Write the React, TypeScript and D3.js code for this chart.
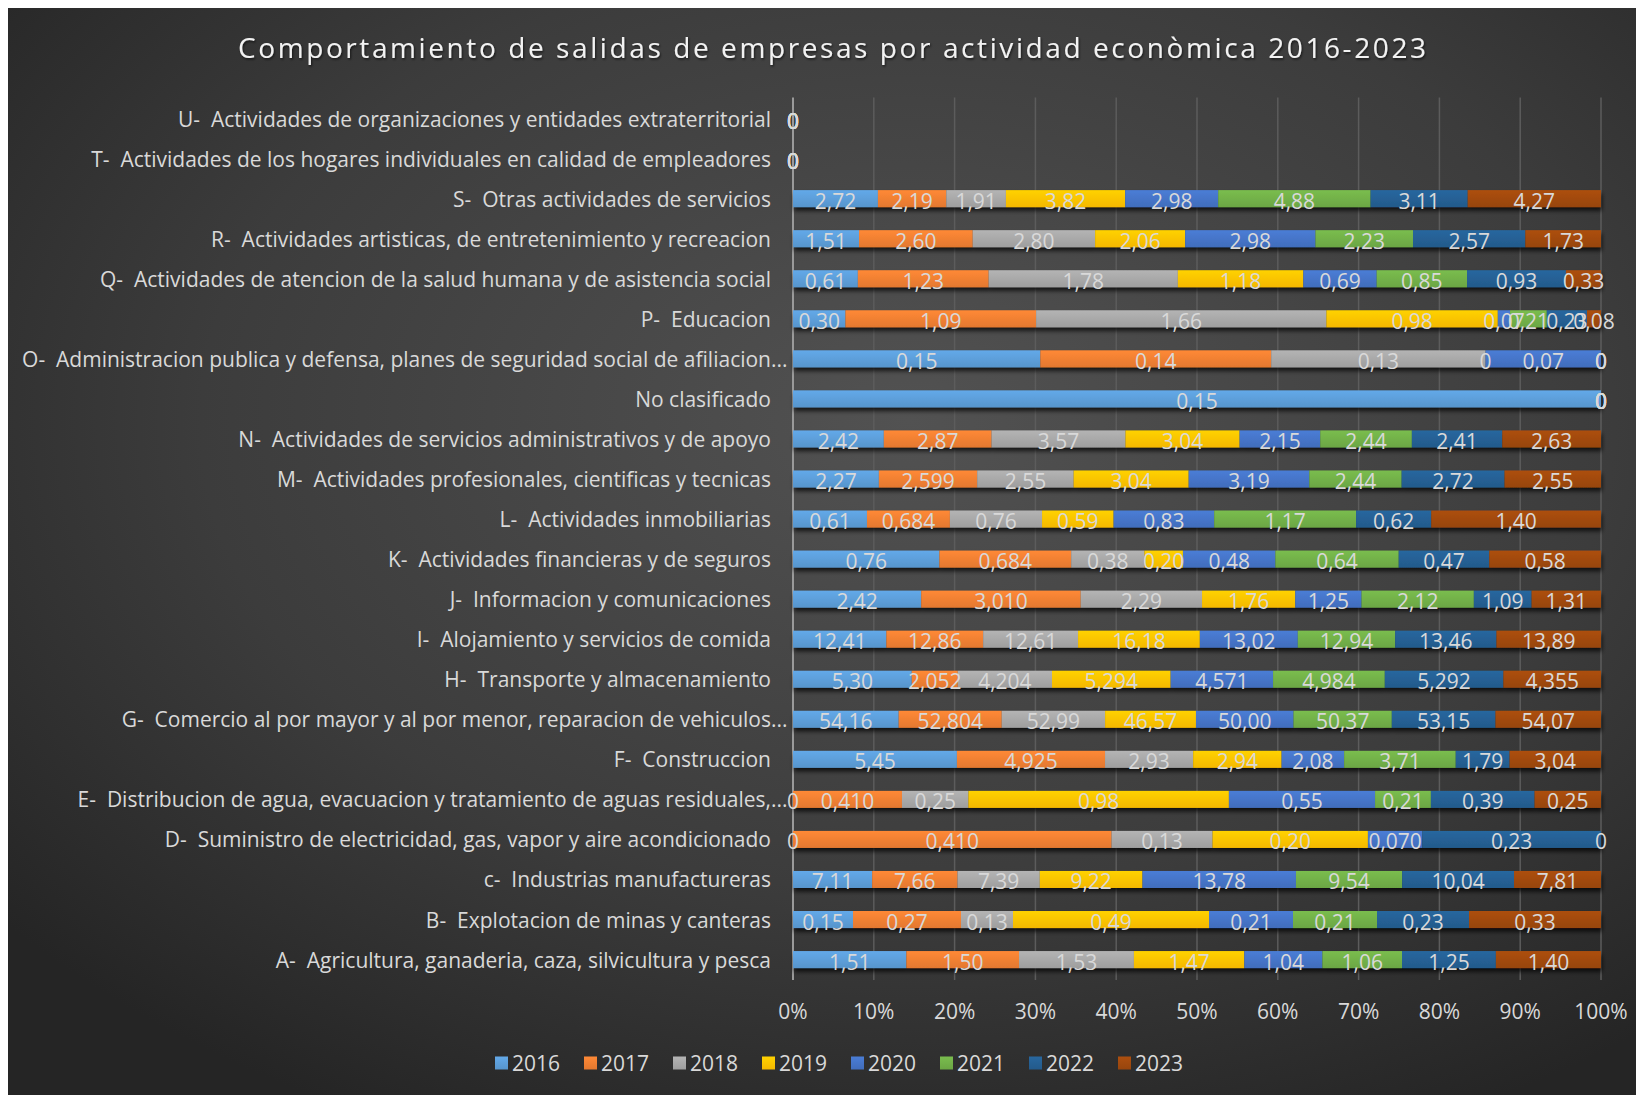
import React from "react";
import * as d3 from "d3";

const categories = [
  "U-  Actividades de organizaciones y entidades extraterritorial",
  "T-  Actividades de los hogares individuales en calidad de empleadores",
  "S-  Otras actividades de servicios",
  "R-  Actividades artisticas, de entretenimiento y recreacion",
  "Q-  Actividades de atencion de la salud humana y de asistencia social",
  "P-  Educacion",
  "O-  Administracion publica y defensa, planes de seguridad social de afiliacion...",
  "No clasificado",
  "N-  Actividades de servicios administrativos y de apoyo",
  "M-  Actividades profesionales, cientificas y tecnicas",
  "L-  Actividades inmobiliarias",
  "K-  Actividades financieras y de seguros",
  "J-  Informacion y comunicaciones",
  "I-  Alojamiento y servicios de comida",
  "H-  Transporte y almacenamiento",
  "G-  Comercio al por mayor y al por menor, reparacion de vehiculos...",
  "F-  Construccion",
  "E-  Distribucion de agua, evacuacion y tratamiento de aguas residuales,...",
  "D-  Suministro de electricidad, gas, vapor y aire acondicionado",
  "c-  Industrias manufactureras",
  "B-  Explotacion de minas y canteras",
  "A-  Agricultura, ganaderia, caza, silvicultura y pesca",
];

const years = ["2016", "2017", "2018", "2019", "2020", "2021", "2022", "2023"];

// "" = empty cell (no value, no label)
const v2016 = ["0","0","2,72","1,51","0,61","0,30","0,15","0,15","2,42","2,27","0,61","0,76","2,42","12,41","5,30","54,16","5,45","0","0","7,11","0,15","1,51"];
const v2017 = ["0","0","2,19","2,60","1,23","1,09","0,14","0","2,87","2,599","0,684","0,684","3,010","12,86","2,052","52,804","4,925","0,410","0,410","7,66","0,27","1,50"];
const v2018 = ["0","0","1,91","2,80","1,78","1,66","0,13","0","3,57","2,55","0,76","0,38","2,29","12,61","4,204","52,99","2,93","0,25","0,13","7,39","0,13","1,53"];
const v2019 = ["0","0","3,82","2,06","1,18","0,98","0","0","3,04","3,04","0,59","0,20","1,76","16,18","5,294","46,57","2,94","0,98","0,20","9,22","0,49","1,47"];
const v2020 = ["0","0","2,98","2,98","0,69","0,07","0,07","0","2,15","3,19","0,83","0,48","1,25","13,02","4,571","50,00","2,08","0,55","0,070","13,78","0,21","1,04"];
const v2021 = ["0","0","4,88","2,23","0,85","0,21","0","0","2,44","2,44","1,17","0,64","2,12","12,94","4,984","50,37","3,71","0,21","","9,54","0,21","1,06"];
const v2022 = ["0","0","3,11","2,57","0,93","0,23","0","0","2,41","2,72","0,62","0,47","1,09","13,46","5,292","53,15","1,79","0,39","0,23","10,04","0,23","1,25"];
const v2023 = ["0","0","4,27","1,73","0,33","0,08","0","0","2,63","2,55","1,40","0,58","1,31","13,89","4,355","54,07","3,04","0,25","0","7,81","0,33","1,40"];

const seriesLabels = [v2016, v2017, v2018, v2019, v2020, v2021, v2022, v2023];
const colors = ["#5B9BD5", "#ED7D31", "#A5A5A5", "#FFC000", "#4472C4", "#70AD47", "#255E91", "#9E480E"];

const tickValues = [0, 0.1, 0.2, 0.3, 0.4, 0.5, 0.6, 0.7, 0.8, 0.9, 1];

const title = "Comportamiento de salidas de empresas por actividad econòmica 2016-2023";

const W = 1636;
const H = 1087;
const FONT = "'Open Sans', 'Noto Sans', sans-serif";
const TXT = "#d9d9d9";

export default function App() {
  const parse = (s: string) => (s === "" ? 0 : +s.replace(",", "."));
  const rows = categories.map((c, i) => {
    const r: any = { cat: c };
    years.forEach((y, k) => (r[y] = parse(seriesLabels[k][i])));
    return r;
  });
  const stack = d3.stack<any>().keys(years).offset(d3.stackOffsetExpand);
  const stacked = stack(rows);

  const x = d3.scaleLinear().domain([0, 1]).range([785, 1593]);
  const y = d3
    .scaleBand<string>()
    .domain(categories)
    .range([90.5, 971.6])
    .paddingInner(0.575)
    .paddingOuter(0.2875);
  const bw = y.bandwidth();
  const pct = d3.format(".0%");

  return (
    <svg width={W} height={H} style={{ display: "block" }}>
      <defs>
        <radialGradient id="bg" cx="0.55" cy="0.38" r="0.72">
          <stop offset="0" stopColor="#525252" />
          <stop offset="0.6" stopColor="#3c3c3c" />
          <stop offset="1" stopColor="#252525" />
        </radialGradient>
        {colors.map((c, i) => (
          <linearGradient key={i} id={`g${i}`} x1="0" y1="0" x2="0" y2="1">
            <stop offset="0" stopColor={d3.color(c)!.brighter(0.25).toString()} />
            <stop offset="1" stopColor={d3.color(c)!.darker(0.12).toString()} />
          </linearGradient>
        ))}
        <filter id="sh" x="-5%" y="-50%" width="110%" height="250%">
          <feDropShadow dx="1" dy="3.5" stdDeviation="2.2" floodColor="#000" floodOpacity="0.75" />
        </filter>
        <filter id="tsh" x="-5%" y="-30%" width="110%" height="160%">
          <feDropShadow dx="1" dy="1.5" stdDeviation="1" floodColor="#000" floodOpacity="0.6" />
        </filter>
      </defs>
      <rect x={0} y={0} width={W} height={H} fill="url(#bg)" />

      <text
        x={824}
        y={39}
        textAnchor="middle"
        dominantBaseline="central"
        fontFamily={FONT}
        fontSize={28}
        fill="#f2f2f2"
        textLength={1188}
        lengthAdjust="spacing"
        filter="url(#tsh)"
      >
        {title}
      </text>

      {tickValues.map((t) => (
        <line
          key={t}
          x1={x(t)}
          x2={x(t)}
          y1={89.5}
          y2={972}
          stroke={t === 0 ? "#9a9a9a" : "#5c5c5c"}
          strokeWidth={t === 0 ? 2 : 1.5}
        />
      ))}

      <g filter="url(#sh)">
        {stacked.map((s, k) =>
          s.map((d, i) => (
            <rect
              key={`${k}-${i}`}
              x={x(d[0])}
              y={y(categories[i])!}
              width={Math.max(0, x(d[1]) - x(d[0]))}
              height={bw}
              fill={`url(#g${k})`}
            />
          ))
        )}
      </g>

      {stacked.map((s, k) =>
        s.map((d, i) =>
          seriesLabels[k][i] === "" ? null : (
            <text
              key={`l${k}-${i}`}
              x={(x(d[0]) + x(d[1])) / 2}
              y={y(categories[i])! + bw / 2 + 2}
              textAnchor="middle"
              dominantBaseline="central"
              fontFamily={FONT}
              fontSize={21}
              fill={TXT}
            >
              {seriesLabels[k][i]}
            </text>
          )
        )
      )}

      {categories.map((c) => {
        const ell = c.endsWith("...");
        const body = ell ? c.slice(0, -3) : c;
        const cy = y(c)! + bw / 2;
        return (
          <g key={c}>
            <text
              x={763}
              y={cy}
              textAnchor="end"
              dominantBaseline="central"
              fontFamily={FONT}
              fontSize={21}
              fill={TXT}
              style={{ whiteSpace: "pre" }}
            >
              {body}
            </text>
            {ell && (
              <text x={763} y={cy} dominantBaseline="central" fontFamily={FONT} fontSize={21} fill={TXT}>
                ...
              </text>
            )}
          </g>
        );
      })}

      {tickValues.map((t) => (
        <text
          key={`t${t}`}
          x={x(t)}
          y={1003}
          textAnchor="middle"
          dominantBaseline="central"
          fontFamily={FONT}
          fontSize={21}
          fill={TXT}
        >
          {pct(t)}
        </text>
      ))}

      {years.map((yr, k) => (
        <g key={yr} transform={`translate(${487 + k * 89},1055)`}>
          <rect x={0} y={-6.5} width={13} height={13} fill={`url(#g${k})`} />
          <text x={17} y={0} dominantBaseline="central" fontFamily={FONT} fontSize={21} fill={TXT}>
            {yr}
          </text>
        </g>
      ))}
    </svg>
  );
}
